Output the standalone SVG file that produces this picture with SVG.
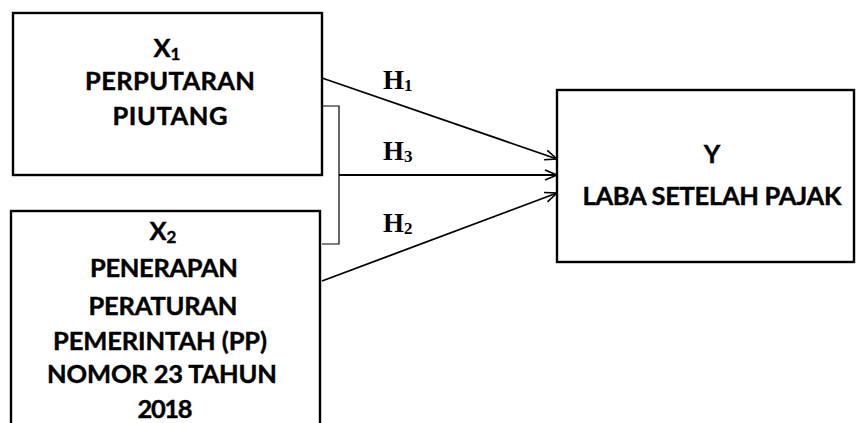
<svg xmlns="http://www.w3.org/2000/svg" width="856" height="423" viewBox="0 0 856 423">
<style>
.box{fill:#fff;stroke:#000;stroke-width:2.4}
.t{font-family:Lato,"Liberation Sans",Arial,sans-serif;font-weight:bold;font-size:25.5px;fill:#000;text-anchor:middle;stroke:#000;stroke-width:0.4}
.h{font-family:"Liberation Serif","Times New Roman",serif;font-weight:bold;font-size:27px;fill:#000}
.sub{font-size:17px}
.hsub{font-size:17px}
.c{fill:none;stroke:#000;stroke-width:1.8}
.br{fill:none;stroke:#000;stroke-width:1.2}
</style>
<defs>
<marker id="arr" viewBox="0 0 14 12" refX="13" refY="6" markerWidth="14" markerHeight="12" markerUnits="userSpaceOnUse" orient="auto">
<path d="M1,1 L13,6 L1,11" fill="none" stroke="#000" stroke-width="1.6"/>
</marker>
</defs>
<rect width="856" height="423" fill="#fff"/>
<g id="x1">
<rect class="box" x="13" y="13" width="309" height="162"/>
<text class="t" x="167" y="57">X<tspan class="sub" dy="3">1</tspan></text>
<text class="t" x="170" y="90" textLength="170" lengthAdjust="spacing">PERPUTARAN</text>
<text class="t" x="170" y="125" textLength="115" lengthAdjust="spacing">PIUTANG</text>
</g>
<g id="x2">
<rect class="box" x="11" y="211" width="309" height="240"/>
<text class="t" x="163" y="240">X<tspan class="sub" dy="3">2</tspan></text>
<text class="t" x="164" y="277" textLength="148" lengthAdjust="spacing">PENERAPAN</text>
<text class="t" x="163" y="315" textLength="149" lengthAdjust="spacing">PERATURAN</text>
<text class="t" x="160" y="350" textLength="214" lengthAdjust="spacing">PEMERINTAH (PP)</text>
<text class="t" x="162" y="383" textLength="230" lengthAdjust="spacing">NOMOR 23 TAHUN</text>
<text class="t" x="165" y="418" textLength="55" lengthAdjust="spacing">2018</text>
</g>
<g id="y">
<rect class="box" x="557" y="90" width="297" height="172"/>
<text class="t" x="712" y="163">Y</text>
<text class="t" x="712" y="205" textLength="259" lengthAdjust="spacing">LABA SETELAH PAJAK</text>
</g>
<g id="connectors">
<path class="br" d="M322,106 H339 V244 H322"/>
<line class="c" x1="322" y1="78" x2="557" y2="159" marker-end="url(#arr)"/>
<line class="c" x1="339" y1="175" x2="557" y2="175" marker-end="url(#arr)"/>
<line class="c" x1="322" y1="281" x2="557" y2="193" marker-end="url(#arr)"/>
<text class="h" x="383" y="89">H<tspan class="hsub" dy="2">1</tspan></text>
<text class="h" x="383" y="160">H<tspan class="hsub" dy="2">3</tspan></text>
<text class="h" x="383" y="232">H<tspan class="hsub" dy="2">2</tspan></text>
</g>
</svg>
